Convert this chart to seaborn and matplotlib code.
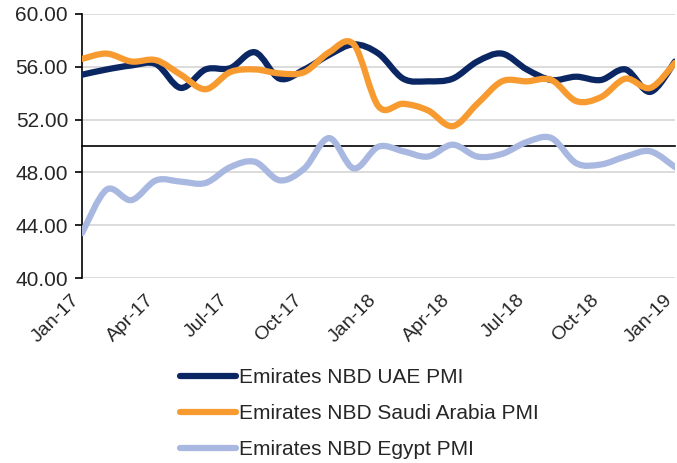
import numpy as np
import pandas as pd
import matplotlib
matplotlib.use("Agg")
import matplotlib.pyplot as plt
from matplotlib.path import Path
from matplotlib.patches import PathPatch
from matplotlib.lines import Line2D
import matplotlib.transforms as mtransforms
import seaborn as sns

months = ["Jan-17", "Feb-17", "Mar-17", "Apr-17", "May-17", "Jun-17", "Jul-17", "Aug-17",
          "Sep-17", "Oct-17", "Nov-17", "Dec-17", "Jan-18", "Feb-18", "Mar-18", "Apr-18",
          "May-18", "Jun-18", "Jul-18", "Aug-18", "Sep-18", "Oct-18", "Nov-18", "Dec-18", "Jan-19"]
uae = [55.4, 55.8, 56.1, 56.2, 54.4, 55.8, 55.9, 57.1, 55.1, 55.8, 56.9, 57.7, 57.0,
       55.1, 54.9, 55.1, 56.4, 57.0, 55.8, 55.0, 55.25, 55.0, 55.8, 54.1, 56.4]
saudi = [56.6, 57.0, 56.4, 56.5, 55.4, 54.3, 55.6, 55.8, 55.5, 55.6, 57.1, 57.7, 53.0,
         53.2, 52.7, 51.5, 53.2, 54.9, 54.9, 55.0, 53.4, 53.7, 55.1, 54.4, 56.3]
egypt = [43.4, 46.7, 45.9, 47.4, 47.3, 47.2, 48.4, 48.8, 47.4, 48.3, 50.6, 48.3, 49.95,
         49.6, 49.2, 50.1, 49.2, 49.4, 50.3, 50.6, 48.7, 48.6, 49.2, 49.6, 48.4]
series_names = ["Emirates NBD UAE PMI", "Emirates NBD Saudi Arabia PMI", "Emirates NBD Egypt PMI"]
colors = ["#0a2663", "#f79b30", "#a8b8e0"]
yticks = [40, 44, 48, 52, 56, 60]
xtick_labels = ["Jan-17", "Apr-17", "Jul-17", "Oct-17", "Jan-18", "Apr-18", "Jul-18", "Oct-18", "Jan-19"]

sns.set_style("white")
plt.rcParams["font.family"] = ["Liberation Sans", "DejaVu Sans"]
FS = 15

fig = plt.figure(figsize=(6.77, 4.63), dpi=100)
ax = fig.add_axes([82 / 677, 1 - 278 / 463, (675 - 82) / 677, (278 - 14) / 463])

x = np.arange(len(months))
df = pd.DataFrame({
    "idx": np.concatenate([x, x, x]),
    "val": uae + saudi + egypt,
    "series": np.repeat(series_names, len(months)),
})
sns.lineplot(data=df, x="idx", y="val", hue="series", palette=colors, legend=False, ax=ax)
for ln in ax.get_lines():
    ln.set_visible(False)


def smooth_path(xs, ys):
    pts = np.column_stack([xs, ys]).astype(float)
    n = len(pts)
    verts = [pts[0]]
    codes = [Path.MOVETO]
    for i in range(n - 1):
        p0 = pts[i - 1] if i > 0 else pts[i]
        p1 = pts[i]
        p2 = pts[i + 1]
        p3 = pts[i + 2] if i + 2 < n else pts[i + 1]
        c1 = p1 + (p2 - p0) / 6.0
        c2 = p2 - (p3 - p1) / 6.0
        verts += [c1, c2, p2]
        codes += [Path.CURVE4] * 3
    return Path(verts, codes)


for vals, col, z in [(egypt, colors[2], 3), (uae, colors[0], 4), (saudi, colors[1], 5)]:
    patch = PathPatch(smooth_path(x, vals), facecolor="none", edgecolor=col, lw=4.5,
                      capstyle="round", joinstyle="round", zorder=z)
    ax.add_patch(patch)

ax.set_xlim(0, len(months) - 1)
ax.set_ylim(40, 60)
ax.set_yticks(yticks)
ax.set_yticklabels([f"{v:.2f}" for v in yticks], fontsize=FS)
for v in yticks:
    ax.axhline(v, color="#d9d9d9", lw=1.3, zorder=1)

for s in ["top", "right"]:
    ax.spines[s].set_visible(False)
ax.spines["left"].set_color("black")
ax.spines["left"].set_linewidth(1.2)
ax.spines["bottom"].set_position(("data", 50))
ax.spines["bottom"].set_color("black")
ax.spines["bottom"].set_linewidth(1.2)
ax.spines["bottom"].set_zorder(2)

tick_pos = x[::3]
ax.set_xticks(tick_pos)
ax.tick_params(axis="x", direction="out", length=5, width=1.2, color="black", labelbottom=False)
ax.tick_params(axis="y", direction="out", length=5, width=1.2, color="black", left=True, pad=5)
ax.set_xlabel("")
ax.set_ylabel("")

sec = ax.secondary_xaxis(0)
sec.set_xticks(tick_pos)
sec.set_xticklabels(xtick_labels, fontsize=14, rotation=45, ha="right", va="center",
                    rotation_mode="anchor")
sec.tick_params(axis="x", length=0, pad=14)
sec.spines["bottom"].set_visible(False)
offset = mtransforms.ScaledTranslation(-5 / 100, 0, fig.dpi_scale_trans)
for lab in sec.get_xticklabels():
    lab.set_transform(lab.get_transform() + offset)

handles = [Line2D([], [], color=c, lw=4.5, solid_capstyle="round") for c in colors]
fig.legend(handles, series_names, loc="upper left", bbox_to_anchor=(180 / 677, 1 - 368 / 463),
           frameon=False, fontsize=FS, handlelength=2.7, handletextpad=0.12, labelspacing=0.82,
           borderaxespad=0, borderpad=0)

fig.savefig("out.png", dpi=100)
